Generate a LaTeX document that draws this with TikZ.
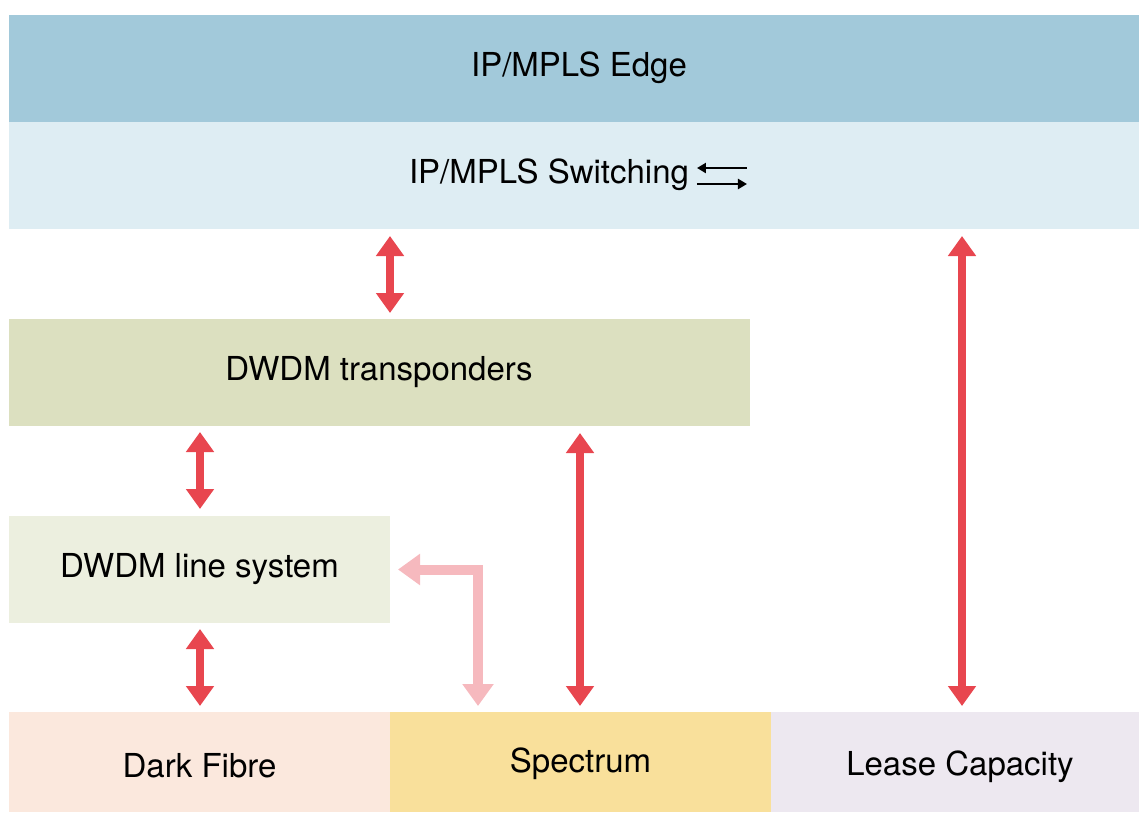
\documentclass[tikz,border=0pt]{standalone}
\usepackage{fontspec}
\setmainfont{TeX Gyre Heros}
\usetikzlibrary{arrows.meta,calc}
\definecolor{cEdge}{HTML}{A2C9DA}
\definecolor{cSw}{HTML}{DEEDF3}
\definecolor{cTr}{HTML}{DCE0C0}
\definecolor{cLs}{HTML}{ECEFDF}
\definecolor{cDf}{HTML}{FBE8DD}
\definecolor{cSp}{HTML}{F9E09B}
\definecolor{cLc}{HTML}{EDE8F0}
\definecolor{cRed}{HTML}{E8464F}
\definecolor{cPink}{HTML}{F6B9BE}
\tikzset{
  layer/.style={inner sep=0pt, outer sep=0pt, font=\fontsize{33}{38}\selectfont, text=black},
  redarr/.style={draw=cRed, line width=8pt, {Triangle[width=27pt,length=20pt]}-{Triangle[width=27pt,length=20pt]}},
  pinkarr/.style={draw=cPink, line width=10pt, line join=miter, {Triangle[width=30pt,length=22pt]}-{Triangle[width=30pt,length=22pt]}},
}
\begin{document}
\begin{tikzpicture}[x=1pt,y=-1pt]
\useasboundingbox (0,0) rectangle (1139,814);
\fill[cEdge] (9,15) rectangle (1139,122);
\node[layer] (edge) at (579,67.5) {IP/MPLS Edge};
\fill[cSw] (9,122) rectangle (1139,229);
\node[layer] (sw) at (549,175) {IP/MPLS Switching};
\coordinate (swbot) at (574,229);
\coordinate (ic) at ($(sw.east)+(8,0)$);
\draw[line width=2.4pt, -{Triangle[width=10pt,length=9pt]}] ($(ic)+(50,-7)$) -- ++(-50,0);
\draw[line width=2.4pt, -{Triangle[width=10pt,length=9pt]}] ($(ic)+(0,9)$) -- ++(50,0);
\fill[cTr] (9,319) rectangle (750,426);
\node[layer] (tr) at (379,372) {DWDM transponders};
\fill[cLs] (9,516) rectangle (390,623);
\node[layer] (ls) at (199.5,569.5) {DWDM line system};
\coordinate (lsE) at (390,569.5);
\fill[cDf] (9,712) rectangle (390,812);
\node[layer] (df) at (199.5,766) {Dark Fibre};
\fill[cSp] (390,712) rectangle (771,812);
\node[layer] (sp) at (580.5,764) {Spectrum};
\fill[cLc] (771,712) rectangle (1139,812);
\node[layer] (lc) at (960,767) {Lease Capacity};
\coordinate (trTop) at (390,319);
\coordinate (trBot) at (200,426);
\coordinate (spTop) at (580,712);
\coordinate (lcTop) at (962,712);
% red arrows
\draw[redarr] (trTop |- swbot) ++(0,7) -- ($(trTop)+(0,-6)$);
\draw[redarr] ($(trBot)+(0,6)$) -- ($(trBot |- 0,516)+(0,-7)$);
\draw[redarr] ($(trBot |- 0,623)+(0,6)$) -- ($(trBot |- 0,712)+(0,-6)$);
\draw[redarr] ($(spTop |- trBot)+(0,7)$) -- ($(spTop)+(0,-6)$);
\draw[redarr] ($(lcTop |- swbot)+(0,7)$) -- ($(lcTop)+(0,-6)$);
% pink arrow
\draw[pinkarr] ($(478,712)+(0,-6)$) |- ($(lsE)+(8,0)$);
\end{tikzpicture}
\end{document}
